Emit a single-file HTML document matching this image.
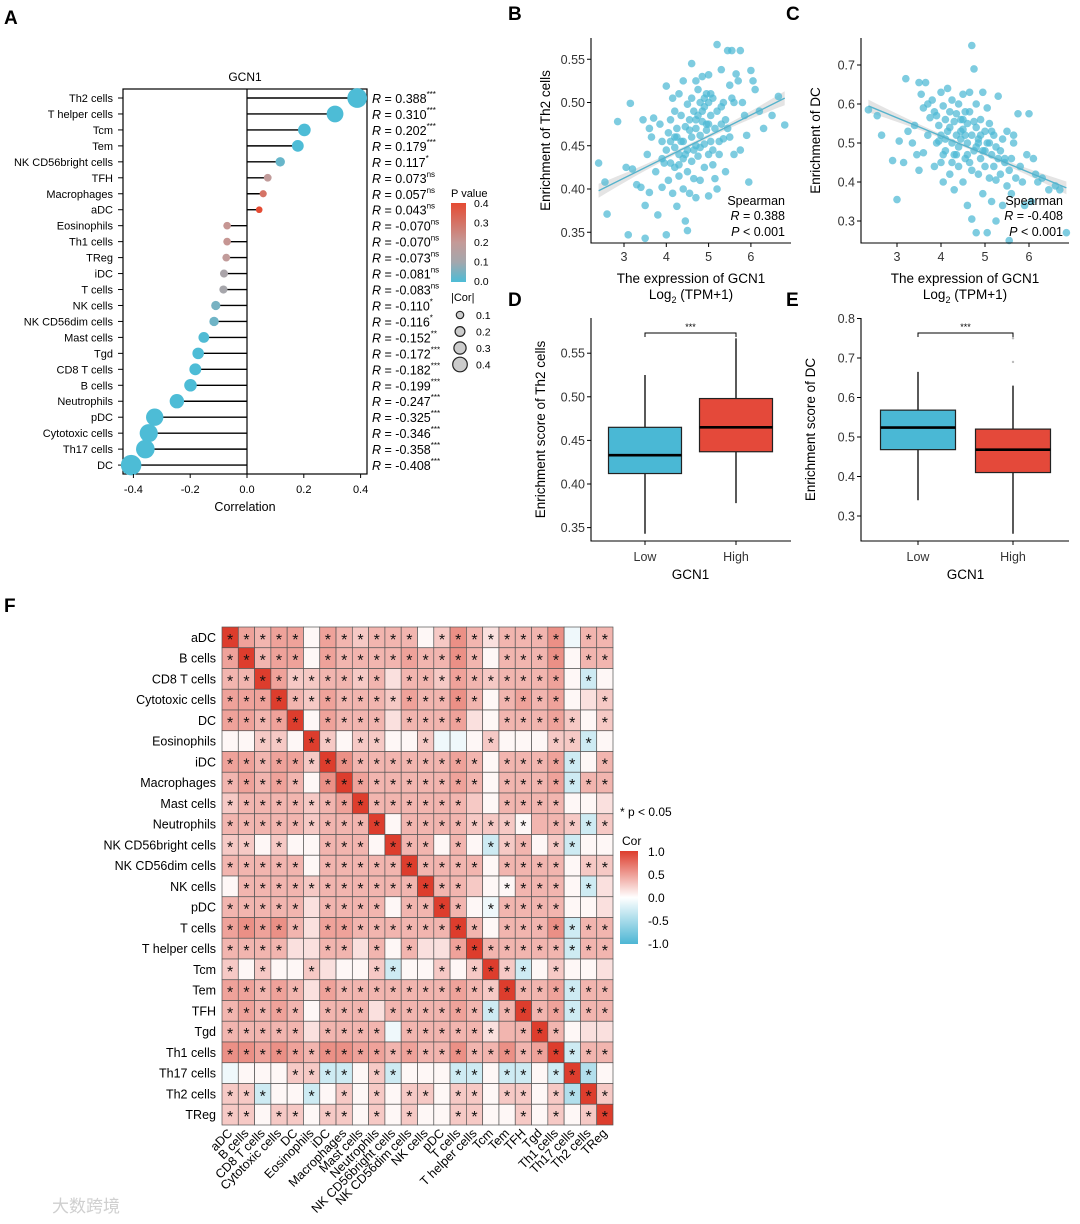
<!DOCTYPE html>
<html><head><meta charset="utf-8"><style>
html,body{margin:0;padding:0;background:#fff;}
svg{display:block;font-family:"Liberation Sans",Arial,sans-serif;}
</style></head><body>
<svg id="chart" width="1080" height="1224" viewBox="0 0 1080 1224" xmlns="http://www.w3.org/2000/svg">
<defs>
<linearGradient id="pgrad" x1="0" y1="0" x2="0" y2="1">
<stop offset="0" stop-color="#e54b33"/><stop offset="0.5" stop-color="#c49a98"/><stop offset="0.75" stop-color="#a3a7ad"/><stop offset="1" stop-color="#4dbcd6"/>
</linearGradient>
<linearGradient id="cgrad" x1="0" y1="0" x2="0" y2="1">
<stop offset="0" stop-color="#dd3d2d"/><stop offset="0.5" stop-color="#ffffff"/><stop offset="1" stop-color="#4db6d4"/>
</linearGradient>
</defs>
</svg>
<script>
// ===== Panel A data =====
const aCells=["Th2 cells","T helper cells","Tcm","Tem","NK CD56bright cells","TFH","Macrophages","aDC","Eosinophils","Th1 cells","TReg","iDC","T cells","NK cells","NK CD56dim cells","Mast cells","Tgd","CD8 T cells","B cells","Neutrophils","pDC","Cytotoxic cells","Th17 cells","DC"];
const aCor=[0.388,0.310,0.202,0.179,0.117,0.073,0.057,0.043,-0.070,-0.070,-0.073,-0.081,-0.083,-0.110,-0.116,-0.152,-0.172,-0.182,-0.199,-0.247,-0.325,-0.346,-0.358,-0.408];
const aP=[0,0,0,0.001,0.03,0.19,0.3,0.4,0.21,0.21,0.19,0.12,0.11,0.05,0.04,0.005,0,0,0,0,0,0,0,0];
const aSig=["***","***","***","***","*","ns","ns","ns","ns","ns","ns","ns","ns","*","*","**","***","***","***","***","***","***","***","***"];
const aTicks=[-0.4,-0.2,0,0.2,0.4];
const aTickLabels=["-0.4","-0.2","0.0","0.2","0.4"];
// ===== Panel B data (Th2 scatter) =====
const bX=[2.40,2.55,2.60,2.85,3.05,3.10,3.15,3.20,3.30,3.40, 3.45,3.50,3.50,3.55,3.60,3.60,3.65,3.70,3.75,3.80, 3.85,3.90,3.90,3.95,4.00,4.00,4.00,4.05,4.05,4.10, 4.10,4.15,4.15,4.20,4.20,4.20,4.25,4.25,4.30,4.30, 4.30,4.35,4.35,4.40,4.40,4.40,4.45,4.45,4.50,4.50, 4.50,4.50,4.55,4.55,4.60,4.60,4.60,4.65,4.65,4.70, 4.70,4.70,4.70,4.75,4.75,4.80,4.80,4.80,4.85,4.85, 4.90,4.90,4.90,4.95,4.95,5.00,5.00,5.00,5.05,5.05, 5.10,5.10,5.15,5.15,5.20,5.20,5.25,5.25,5.30,5.30, 5.35,5.40,5.40,5.45,5.50,5.50,5.55,5.60,5.60,5.65, 5.70,5.75,5.80,5.85,5.90,5.95,6.00,6.05,6.10,6.20, 6.30,6.50,6.65,6.80,4.60,4.20,3.90,5.20,4.80,5.00, 4.40,4.70,4.30,5.30,4.10,4.90,5.10,4.55,4.85,5.45, 5.55,5.75,4.95,4.65,4.25,4.45,5.05,5.35,5.00,4.75];
const bY=[.430,.408,.371,.478,.425,.347,.499,.423,.405,.402, .480,.343,.381,.440,.470,.396,.460,.482,.420,.370, .475,.455,.402,.430,.519,.445,.347,.465,.410,.480, .430,.505,.395,.490,.448,.425,.470,.380,.510,.440, .415,.485,.455,.525,.435,.400,.472,.363,.498,.445, .420,.352,.480,.395,.505,.460,.432,.490,.412,.525, .470,.450,.390,.515,.438,.500,.462,.410,.530,.478, .495,.452,.425,.510,.468,.532,.440,.392,.485,.455, .505,.428,.470,.412,.567,.490,.455,.440,.538,.475, .500,.480,.420,.560,.520,.460,.560,.500,.440,.533, .525,.560,.500,.485,.462,.408,.537,.525,.515,.490, .470,.485,.507,.474,.545,.460,.435,.400,.448,.475, .455,.480,.428,.495,.455,.505,.445,.468,.490,.470, .505,.445,.475,.445,.460,.440,.510,.458,.500,.485];
const bFit=[[2.4,0.398],[6.8,0.505]];
// ===== Panel C data (DC scatter) =====
const cX=[2.35,2.55,2.65,2.90,3.00,3.05,3.15,3.20,3.25,3.35, 3.40,3.45,3.50,3.50,3.55,3.60,3.60,3.65,3.70,3.75, 3.80,3.85,3.85,3.90,3.95,4.00,4.00,4.05,4.05,4.10, 4.10,4.15,4.15,4.20,4.20,4.25,4.25,4.30,4.30,4.35, 4.35,4.40,4.40,4.45,4.45,4.50,4.50,4.50,4.55,4.55, 4.60,4.60,4.60,4.65,4.65,4.70,4.70,4.70,4.75,4.75, 4.80,4.80,4.80,4.85,4.85,4.90,4.90,4.95,4.95,5.00, 5.00,5.05,5.05,5.10,5.10,5.15,5.15,5.20,5.20,5.25, 5.25,5.30,5.30,5.35,5.40,5.40,5.45,5.50,5.50,5.55, 5.60,5.60,5.65,5.70,5.75,5.80,5.85,5.90,5.95,6.00, 6.05,6.10,6.15,6.20,6.30,6.45,6.60,6.70,6.85,4.00, 4.20,4.40,4.60,4.80,5.00,4.30,4.50,4.70,4.90,5.10, 3.70,3.90,4.10,4.45,4.65,4.85,5.05,5.35,5.55,4.25, 4.75,4.55,4.95,5.15,5.45,3.95,4.35,4.05,5.25,5.65];
const cY=[.585,.57,.52,.455,.355,.505,.45,.665,.53,.50, .545,.47,.655,.43,.625,.59,.475,.655,.52,.565, .61,.44,.58,.50,.545,.63,.45,.595,.40,.56, .48,.64,.53,.58,.42,.61,.50,.555,.38,.52, .47,.60,.44,.56,.51,.625,.535,.40,.58,.46, .55,.50,.34,.63,.45,.75,.52,.305,.69,.48, .60,.54,.27,.51,.42,.56,.46,.63,.37,.53, .44,.50,.27,.55,.41,.47,.35,.52,.44,.49, .30,.46,.62,.42,.51,.34,.45,.53,.39,.25, .46,.37,.52,.41,.575,.44,.40,.34,.47,.575, .35,.46,.42,.40,.41,.38,.39,.38,.27,.52, .54,.49,.47,.49,.48,.47,.56,.43,.52,.50, .60,.57,.51,.53,.58,.50,.59,.48,.43,.45, .555,.52,.48,.53,.46,.505,.575,.47,.405,.50];
const cFit=[[2.35,0.595],[6.85,0.385]];
// ===== Panels D/E data (boxplots: lowWhisker, q1, median, q3, highWhisker) =====
const groups=["Low","High"];
const dStats=[[0.343,0.412,0.433,0.465,0.525],[0.378,0.437,0.465,0.498,0.567]];
const eStats=[[0.340,0.468,0.524,0.568,0.665],[0.255,0.410,0.468,0.520,0.630]];
const eOutliers=[0.69,0.75];
// ===== Panel F data =====
const hmNames=["aDC","B cells","CD8 T cells","Cytotoxic cells","DC","Eosinophils","iDC","Macrophages","Mast cells","Neutrophils","NK CD56bright cells","NK CD56dim cells","NK cells","pDC","T cells","T helper cells","Tcm","Tem","TFH","Tgd","Th1 cells","Th17 cells","Th2 cells","TReg"];
const hmCodes=[
"x43440432333025313335a33","4x3440433334335303335033","33x422332313324323334 0b0".replace(/ /g,""),"444x32433324335303434012",
"4434x0433313334103334202","00220x2022002aa0200022b0","443442x53333334303334b03","3434305x4333334303334b33",
"23333234x333333203333001","333332333x033332220332b2","2202003330x33030b2302b00","33333033333x333303333022",
"033332333333x332003330b1","3333313333033x30a3333001","45453144333333x303335b33","333311331303114x33333b33",
"2020021002b00202x2b02001","44343143333333432x334b33","3434303331333343b3x34b33","3333313333a33333133x3011",
"55454355443433533534xb33","a00022bb02b000bb0bb0bxc0","22b00b020202202202202cx2","22022022020200220020202x"];
const hmStars=[
"*****.******.********.**","*****.**********.****.**","**********.**********.*.","****************.****..*",
"*****.****.****..*****.*","..**.**.**..*...*...***.","****************.*****.*","*****.**********.*******",
"***************..****...","**********.********.****","**.*..***.***.*.***.**..","*****.**********.****.**",
".**************..****.*.","*****.****.****.*****...","*****.**********.*******","****..**.*.*..**********",
"*.*..*...**..*.****.*...","*****.******************","*****.***.**************","*****.****.******.***...",
"************************","....****.**...**.**.***.","***..*.*.*.**.**.**.****","**.**.**.*.*..**..*.*.**"];
const codeVal={"x":1.0,"6":0.6,"5":0.5,"4":0.4,"3":0.3,"2":0.2,"1":0.1,"0":0.02,"a":-0.05,"b":-0.2,"c":-0.35};
const cbLabels=["1.0","0.5","0.0","-0.5","-1.0"];

const NS="http://www.w3.org/2000/svg";
const svg=document.getElementById('chart');
function mk(tag,attrs,parent){const e=document.createElementNS(NS,tag);for(const k in attrs)e.setAttribute(k,attrs[k]);(parent||svg).appendChild(e);return e;}
function txt(s,attrs,parent){const e=mk('text',attrs,parent);e.textContent=s;return e;}
function lerp(a,b,t){return Math.round(a+(b-a)*t);}
function rgb(c){return "rgb("+c[0]+","+c[1]+","+c[2]+")";}

[["A",4,24],["B",508,20],["C",786,20],["D",508,306],["E",786,306],["F",4,612]].forEach(p=>{
  const t=txt(p[0],{x:p[1],y:p[2],"font-size":19,"font-weight":"bold",fill:"#000"});
  
  
});

// ===================== Panel A =====================
const gA=mk('g',{});


const xA=v=>247+v*284, yA=i=>98+i*15.96;
function pColor(p){
  const stops=[[0,[77,188,214]],[0.1,[163,167,173]],[0.2,[196,154,152]],[0.4,[229,75,51]]];
  for(let k=0;k<stops.length-1;k++){const a=stops[k],b=stops[k+1];
    if(p<=b[0]){const t=(p-a[0])/(b[0]-a[0]);return rgb([lerp(a[1][0],b[1][0],t),lerp(a[1][1],b[1][1],t),lerp(a[1][2],b[1][2],t)]);}}
  return rgb(stops[3][1]);
}
let t0=txt("GCN1",{x:245,y:81,"font-size":12,"text-anchor":"middle"},gA);


let frame=mk('rect',{x:123,y:89,width:244,height:385,fill:"none",stroke:"#000","stroke-width":1.2},gA);


let zl=mk('line',{x1:xA(0),x2:xA(0),y1:89,y2:474,stroke:"#000","stroke-width":1.2},gA);


aCells.forEach((c,i)=>{
  const y=yA(i);
  const lab=txt(c,{x:113,y:y+4,"font-size":11,"text-anchor":"end"},gA);
  
  
  mk('line',{x1:118,x2:123,y1:y,y2:y,stroke:"#000","stroke-width":1},gA);
  const st=mk('line',{x1:xA(0),x2:xA(aCor[i]),y1:y,y2:y,stroke:"#000","stroke-width":1.4},gA);
  
  
  const d=mk('circle',{cx:xA(aCor[i]),cy:y,r:2.5+19*Math.abs(aCor[i]),fill:pColor(aP[i])},gA);
  
  
  const r=mk('text',{x:372,y:y+5,"font-size":12.5},gA);
  
  
  const s1=mk('tspan',{"font-style":"italic"},r);s1.textContent="R";
  const s2=mk('tspan',{},r);s2.textContent=" = "+aCor[i].toFixed(3);
  const s3=mk('tspan',{"font-size":8,dy:-6},r);s3.textContent=aSig[i];
});
aTicks.forEach((v,k)=>{
  mk('line',{x1:xA(v),x2:xA(v),y1:474,y2:478,stroke:"#000"},gA);
  const t=txt(aTickLabels[k],{x:xA(v),y:493,"font-size":11,"text-anchor":"middle"},gA);
  
  
});
let xt=txt("Correlation",{x:245,y:511,"font-size":12.5,"text-anchor":"middle"},gA);


let pl=txt("P value",{x:451,y:197,"font-size":11},gA);


let pb=mk('rect',{x:451,y:203,width:15,height:79,fill:"url(#pgrad)"},gA);


["0.4","0.3","0.2","0.1","0.0"].forEach((s,k)=>{txt(s,{x:474,y:207+k*19.5,"font-size":10.5},gA);});
let cl=txt("|Cor|",{x:451,y:301,"font-size":11},gA);


[0.1,0.2,0.3,0.4].forEach((v,k)=>{
  const cy=315+k*16.5;
  const c=mk('circle',{cx:460,cy:cy,r:2.5+12*v,fill:"#ccc",stroke:"#222","stroke-width":1.2},gA);
  
  
  txt(v.toFixed(1),{x:476,y:cy+4,"font-size":10.5},gA);
});

// ===================== Scatter panels =====================
function scatter(name,xs,ys,fit,ax,ticksX,ticksY,fmtY,ytitle,rText,band){
  const g=mk('g',{});
  
  
  const X=v=>ax.x0+(v-ax.xv0)*ax.kx, Y=v=>ax.y0-(v-ax.yv0)*ax.ky;
  const [p0,p1]=fit;
  const xm=(p0[0]+p1[0])/2;
  const pts=[];const N=20;
  for(let k=0;k<=N;k++){const xv=p0[0]+(p1[0]-p0[0])*k/N;const yv=p0[1]+(p1[1]-p0[1])*(xv-p0[0])/(p1[0]-p0[0]);const w=band*(0.35+Math.pow((xv-xm)/(p1[0]-p0[0]),2)*4);pts.push([X(xv),Y(yv+w)]);}
  for(let k=N;k>=0;k--){const xv=p0[0]+(p1[0]-p0[0])*k/N;const yv=p0[1]+(p1[1]-p0[1])*(xv-p0[0])/(p1[0]-p0[0]);const w=band*(0.35+Math.pow((xv-xm)/(p1[0]-p0[0]),2)*4);pts.push([X(xv),Y(yv-w)]);}
  const bd=mk('polygon',{points:pts.map(p=>p[0].toFixed(1)+","+p[1].toFixed(1)).join(" "),fill:"#d9d9d9",opacity:0.7},g);
  
  
  xs.forEach((xv,i)=>{
    const c=mk('circle',{cx:X(xv),cy:Y(ys[i]),r:3.8,fill:"#4cb8d4","fill-opacity":0.72},g);
    
    
  });
  const fl=mk('line',{x1:X(p0[0]),y1:Y(p0[1]),x2:X(p1[0]),y2:Y(p1[1]),stroke:"#56b3cc","stroke-width":1.4},g);
  
  
  const axl=mk('path',{d:`M${ax.left},${ax.top} V${ax.bottom} H${ax.right}`,fill:"none",stroke:"#000","stroke-width":1.1},g);
  
  
  ticksX.forEach(v=>{mk('line',{x1:X(v),x2:X(v),y1:ax.bottom,y2:ax.bottom+4,stroke:"#000"},g);
    const t=txt(String(v),{x:X(v),y:ax.bottom+18,"font-size":12.5,"text-anchor":"middle",fill:"#333"},g);
    
    });
  ticksY.forEach(v=>{mk('line',{x1:ax.left-4,x2:ax.left,y1:Y(v),y2:Y(v),stroke:"#000"},g);
    const t=txt(fmtY(v),{x:ax.left-6,y:Y(v)+4.5,"font-size":12.5,"text-anchor":"end",fill:"#333"},g);
    
    });
  const cx=(ax.left+ax.right)/2;
  const t1=txt("The expression of GCN1",{x:cx,y:283,"font-size":13.5,"text-anchor":"middle"},g);
  
  
  const t2=mk('text',{x:cx,y:299,"font-size":13.5,"text-anchor":"middle"},g);
  
  
  const a1=mk('tspan',{},t2);a1.textContent="Log";
  const a2=mk('tspan',{"font-size":9,dy:4},t2);a2.textContent="2";
  const a3=mk('tspan',{dy:-4},t2);a3.textContent=" (TPM+1)";
  const yt=txt(ytitle,{x:0,y:0,"font-size":13.5,"text-anchor":"middle",transform:`translate(${ax.left-41},${(ax.top+ax.bottom)/2}) rotate(-90)`},g);
  
  
  const sp=txt("Spearman",{x:ax.right-6,y:205,"font-size":12.5,"text-anchor":"end"},g);
  
  
  const rr=mk('text',{x:ax.right-6,y:220,"font-size":12.5,"text-anchor":"end"},g);
  
  
  const r1=mk('tspan',{"font-style":"italic"},rr);r1.textContent="R";
  const r2=mk('tspan',{},rr);r2.textContent=" = "+rText;
  const pp=mk('text',{x:ax.right-6,y:236,"font-size":12.5,"text-anchor":"end"},g);
  
  
  const q1=mk('tspan',{"font-style":"italic"},pp);q1.textContent="P";
  const q2=mk('tspan',{},pp);q2.textContent=" < 0.001";
}
scatter('panel-b-scatter',bX,bY,bFit,{x0:624,xv0:3,kx:42.3,y0:189,yv0:0.40,ky:865,left:591,right:791,top:38,bottom:243},[3,4,5,6],[0.35,0.40,0.45,0.50,0.55],v=>v.toFixed(2),"Enrichment of Th2 cells","0.388",0.006);
scatter('panel-c-scatter',cX,cY,cFit,{x0:897,xv0:3,kx:44,y0:143,yv0:0.5,ky:390,left:861,right:1069,top:38,bottom:243},[3,4,5,6],[0.3,0.4,0.5,0.6,0.7],v=>v.toFixed(1),"Enrichment of DC","-0.408",0.012);

// ===================== Boxplots =====================
function boxplot(name,stats,outl,ax,ticksY,fmtY,ytitle){
  const g=mk('g',{});
  
  
  const Y=v=>ax.y0-(v-ax.yv0)*ax.ky;
  const cols=["#4ab8d5","#e4493a"];
  stats.forEach((s,i)=>{
    const cx=ax.cx[i];
    const wl=mk('line',{x1:cx,x2:cx,y1:Y(s[0]),y2:Y(s[4]),stroke:"#000","stroke-width":1.3},g);
    
    
    const b=mk('rect',{x:cx-ax.bw/2,y:Y(s[3]),width:ax.bw,height:Y(s[1])-Y(s[3]),fill:cols[i],stroke:"#222","stroke-width":1.2},g);
    
    
    const m=mk('line',{x1:cx-ax.bw/2,x2:cx+ax.bw/2,y1:Y(s[2]),y2:Y(s[2]),stroke:"#000","stroke-width":2.6},g);
    
    
    mk('line',{x1:cx,x2:cx,y1:ax.bottom,y2:ax.bottom+4,stroke:"#000"},g);
    const t=txt(groups[i],{x:cx,y:ax.bottom+20,"font-size":12.5,"text-anchor":"middle",fill:"#333"},g);
    
    
  });
  outl.forEach(v=>{const o=mk('circle',{cx:ax.cx[1],cy:Y(v),r:1.2,fill:"#bbb"},g);
    
    });
  const axl=mk('path',{d:`M${ax.left},${ax.top} V${ax.bottom} H${ax.right}`,fill:"none",stroke:"#000","stroke-width":1.1},g);
  
  
  ticksY.forEach(v=>{mk('line',{x1:ax.left-4,x2:ax.left,y1:Y(v),y2:Y(v),stroke:"#000"},g);
    const t=txt(fmtY(v),{x:ax.left-6,y:Y(v)+4.5,"font-size":12.5,"text-anchor":"end",fill:"#333"},g);
    
    });
  const br=mk('path',{d:`M${ax.cx[0]},${ax.brY+4} V${ax.brY} H${ax.cx[1]} V${ax.brY+4}`,fill:"none",stroke:"#000","stroke-width":1},g);
  
  
  const st=txt("***",{x:(ax.cx[0]+ax.cx[1])/2,y:ax.brY-3,"font-size":9,"text-anchor":"middle"},g);
  
  
  const xt=txt("GCN1",{x:(ax.cx[0]+ax.cx[1])/2,y:579,"font-size":13.5,"text-anchor":"middle"},g);
  
  
  const yt=txt(ytitle,{x:0,y:0,"font-size":13.5,"text-anchor":"middle",transform:`translate(${ax.left-46},${(ax.top+ax.bottom)/2}) rotate(-90)`},g);
  
  
}
boxplot('panel-d-boxplot',dStats,[],{y0:484,yv0:0.40,ky:872,left:591,right:791,top:318,bottom:541,cx:[645,736],bw:73,brY:333},[0.35,0.40,0.45,0.50,0.55],v=>v.toFixed(2),"Enrichment score of Th2 cells");
boxplot('panel-e-boxplot',eStats,eOutliers,{y0:437,yv0:0.5,ky:395,left:861,right:1069,top:318,bottom:541,cx:[918,1013],bw:75,brY:333},[0.3,0.4,0.5,0.6,0.7,0.8],v=>v.toFixed(1),"Enrichment score of DC");

// ===================== Panel F heatmap =====================
const gF=mk('g',{});


const hx0=222,hy0=627,cw=(613-222)/24,ch=(1125-627)/24;
function corColor(v){
  if(v>=0){const t=Math.pow(v,0.8);return rgb([lerp(255,221,t),lerp(255,61,t),lerp(255,45,t)]);}
  const t=Math.pow(-v,0.8);return rgb([lerp(255,77,t),lerp(255,182,t),lerp(255,212,t)]);
}
hmNames.forEach((rn,i)=>{
  const lab=txt(rn,{x:216,y:hy0+i*ch+ch/2+4.5,"font-size":12.5,"text-anchor":"end"},gF);
  
  
  for(let j=0;j<24;j++){
    const v=codeVal[hmCodes[i][j]];
    const r=mk('rect',{x:hx0+j*cw,y:hy0+i*ch,width:cw,height:ch,fill:corColor(v),stroke:"#555","stroke-width":0.7},gF);
    
    
    if(hmStars[i][j]==="*"){
      const s=txt("*",{x:hx0+j*cw+cw/2,y:hy0+i*ch+ch/2+7.5,"font-size":16,"text-anchor":"middle",fill:"#111"},gF);
      
      
    }
  }
});
hmNames.forEach((cn,j)=>{
  const x=hx0+j*cw+cw/2+3,y=1134;
  const t=txt(cn,{x:x,y:y,"font-size":12.5,"text-anchor":"end",transform:`rotate(-45 ${x} ${y})`},gF);
  
  
});
let pn=txt("* p < 0.05",{x:620,y:816,"font-size":12},gF);


let ct=txt("Cor",{x:622,y:845,"font-size":12},gF);


let cb=mk('rect',{x:620,y:851,width:18,height:93,fill:"url(#cgrad)"},gF);


cbLabels.forEach((s,k)=>{const t=txt(s,{x:648,y:856+k*23,"font-size":12},gF);
  
  });

let wm=txt("大数跨境",{x:52,y:1212,"font-size":17,fill:"#cfcfcf","font-family":"\"Liberation Sans\",\"Noto Sans CJK SC\",sans-serif"});


</script>
</body></html>
